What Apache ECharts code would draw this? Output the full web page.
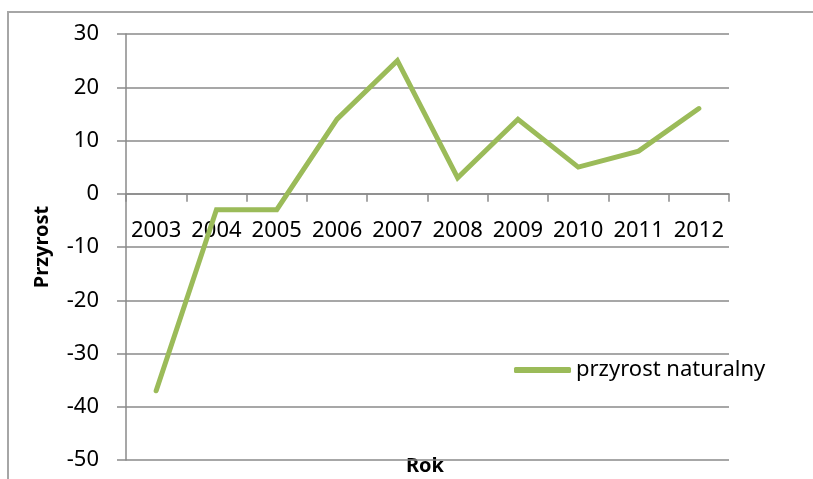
<!DOCTYPE html>
<html>
<head>
<meta charset="utf-8">
<script src="https://cdn.jsdelivr.net/npm/echarts@6/dist/echarts.min.js"></script>
<style>
  html, body { margin: 0; padding: 0; background: #fff; }
  #chart { width: 813px; height: 479px; }
</style>
</head>
<body>
<div id="chart"></div>
<script>
const lata = ['2003', '2004', '2005', '2006', '2007', '2008', '2009', '2010', '2011', '2012'];
const przyrost = [-37, -3, -3, 14, 25, 3, 14, 5, 8, 16];
const nazwaSerii = 'przyrost naturalny';
const yMin = -50;
const yMax = 30;

const kolorLinii = '#9BBB59';
const kolorSiatki = '#8a8a8a';
const czcionka = '"Noto Sans", "Open Sans", sans-serif';

const gridTop = 34;
const gridBottom = 19;
const wysokosc = 479;

// os X stoi na wysokosci zera, a nie na dole siatki
const plotH = wysokosc - gridTop - gridBottom;
const przesuniecieX = -plotH * (0 - yMin) / (yMax - yMin);

const chart = echarts.init(document.getElementById('chart'));

chart.setOption({
    animation: false,
    textStyle: { fontFamily: czcionka },
    graphic: [
        {
            type: 'rect',
            shape: { x: 8, y: 12, width: 900, height: 600 },
            style: { fill: 'none', stroke: '#a6a6a6', lineWidth: 2 },
            silent: true
        },
        {
            type: 'text',
            left: 406,
            top: 456,
            style: { text: 'Rok', fill: '#000', font: 'bold 20px ' + czcionka },
            silent: true
        }
    ],
    grid: { left: 126, right: 84, top: gridTop, bottom: gridBottom, containLabel: false, outerBoundsMode: 'none' },
    legend: {
        data: [nazwaSerii],
        left: 514,
        top: 359,
        padding: 0,
        icon: 'roundRect',
        itemWidth: 57,
        itemHeight: 6,
        textStyle: { fontSize: 22, color: '#000', fontFamily: czcionka }
    },
    xAxis: {
        type: 'category',
        data: lata,
        boundaryGap: true,
        position: 'bottom',
        offset: przesuniecieX,
        axisLine: { onZero: false, lineStyle: { color: kolorSiatki, width: 1.5 } },
        axisTick: { show: true, length: 8, alignWithLabel: false, lineStyle: { color: kolorSiatki, width: 1.5 } },
        axisLabel: { fontSize: 22, color: '#000', margin: 26, interval: 0 },
        splitLine: { show: false }
    },
    yAxis: {
        type: 'value',
        min: yMin,
        max: yMax,
        interval: 10,
        name: 'Przyrost',
        nameLocation: 'middle',
        nameGap: 74,
        nameRotate: 90,
        nameTextStyle: { fontSize: 20, fontWeight: 'bold', color: '#000' },
        axisLine: { show: true, lineStyle: { color: kolorSiatki, width: 1.5 } },
        axisTick: { show: true, length: 9, lineStyle: { color: kolorSiatki, width: 1.5 } },
        axisLabel: { fontSize: 22, color: '#000', margin: 27 },
        splitLine: { show: true, lineStyle: { color: kolorSiatki, width: 1.5 } }
    },
    series: [
        {
            name: nazwaSerii,
            type: 'line',
            data: przyrost,
            symbol: 'none',
            itemStyle: { color: kolorLinii },
            lineStyle: { color: kolorLinii, width: 5, cap: 'round', join: 'miter' }
        }
    ]
});
</script>
</body>
</html>
